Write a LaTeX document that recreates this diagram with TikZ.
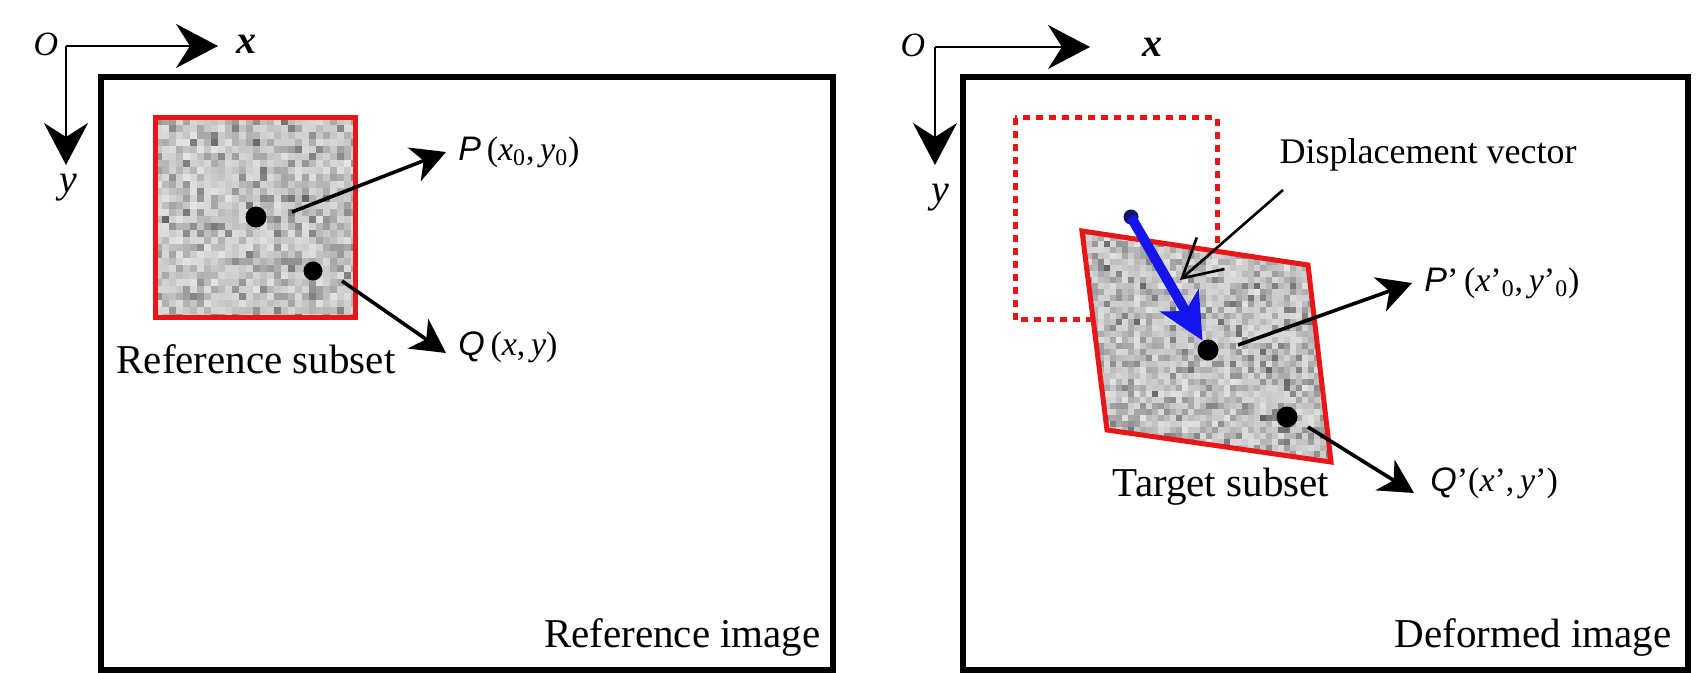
\documentclass[tikz,border=0pt]{standalone}
\usepackage{fontspec}
\setmainfont{Liberation Serif}
\setsansfont{Liberation Sans}
\usetikzlibrary{arrows.meta}
\definecolor{myred}{RGB}{232,22,22}
\definecolor{myblue}{RGB}{20,20,235}
\definecolor{navy}{RGB}{20,20,110}
\begin{document}
\begin{tikzpicture}[x=0.5pt,y=-0.5pt,
  frame/.style={line width=3pt},
  subsetbox/.style={draw=myred,line width=2.5pt},
  dashbox/.style={draw=myred,line width=2.5pt,dash pattern=on 3.5pt off 3pt},
  axisarrow/.style={line width=1pt,-{Stealth[length=21pt,width=22pt,inset=7pt]}},
  ptr/.style={line width=1.8pt,-{Stealth[length=17pt,width=18pt,inset=5pt]}},
  bluearrow/.style={draw=myblue,line width=5pt,-{Stealth[length=23pt,width=22pt,inset=6pt]}},
  openarrow/.style={line width=1.3pt,-{Straight Barb[length=19pt,width=21pt]}},
  dot/.style={circle,fill=black,minimum size=10.5pt,inner sep=0pt},
  biglbl/.style={font=\fontsize{20.5}{24}\selectfont,inner sep=0pt},
  midlbl/.style={font=\fontsize{18}{22}\selectfont,inner sep=0pt},
  mathlbl/.style={font=\fontsize{17}{20}\selectfont,inner sep=0pt,anchor=west},
  olbl/.style={font=\fontsize{17}{20}\selectfont,inner sep=0pt},
  axlbl/.style={font=\fontsize{20}{24}\selectfont,inner sep=0pt}
]
\useasboundingbox (0,0) rectangle (1702,673);
\fill[white] (0,0) rectangle (1702,673);

% ---------- left panel ----------
\draw[frame] (101,77) rectangle (833,670);
\node[olbl] (O1) at (46,44) {\textit{O}};
\coordinate (o1) at (66,46);
\coordinate (x1) at (218,46);
\coordinate (y1) at (66,165);
\draw[axisarrow] (o1) -- (x1);
\draw[axisarrow] (o1) -- (y1);
\node[axlbl] (xl1) at (246,44) {\textbf{\textit{x}}};
\node[axlbl] (yl1) at (68,188) {\textit{y}};

\pgfmathsetseed{11}
\begin{scope}
\clip (155,118) rectangle (355,318);
\foreach \i in {0,...,28}{\foreach \j in {0,...,28}{
  \pgfmathsetmacro{\g}{10+44*rnd*rnd+8*rnd}
  \fill[black!\g] (155+7*\i,118+7*\j) rectangle ++(7.4,7.4);
}}
\end{scope}
\draw[subsetbox] (155,118) rectangle (355,318);

\node[dot] (P) at (256,217) {};
\node[dot,minimum size=9.5pt] (Q) at (313,271) {};
\coordinate (Ps) at (292,212);
\coordinate (Qs) at (342,281);
\node[mathlbl] (Pl) at (458,152) {{\sffamily\itshape P}\,(\textit{x}\textsubscript{0},\,\textit{y}\textsubscript{0})};
\node[mathlbl] (Ql) at (458,347) {{\sffamily\itshape Q}\,(\textit{x},\,\textit{y})};
\draw[ptr] (Ps) -- ([xshift=-6]Pl.west);
\draw[ptr] (Qs) -- ([xshift=-6,yshift=-3]Ql.west);
\node[biglbl] (rs) at (256,359) {Reference subset};
\node[biglbl,anchor=east] (ri) at (821,637) {Reference image};

% ---------- right panel ----------
\draw[frame] (963,77) rectangle (1688,670);
\node[olbl] (O2) at (913,45) {\textit{O}};
\coordinate (o2) at (935,47);
\coordinate (x2) at (1090,47);
\coordinate (y2) at (935,165);
\draw[axisarrow] (o2) -- (x2);
\draw[axisarrow] (o2) -- (y2);
\node[axlbl] (xl2) at (1152,47) {\textbf{\textit{x}}};
\node[axlbl] (yl2) at (940,198) {\textit{y}};

\draw[dashbox] (1015,118) rectangle (1217,320);

\coordinate (TL) at (1082,231);
\coordinate (TR) at (1308,265);
\coordinate (BR) at (1331,462);
\coordinate (BL) at (1107,430);
\fill[white] (TL) -- (TR) -- (BR) -- (BL) -- cycle;
\begin{scope}
\clip (TL) -- (TR) -- (BR) -- (BL) -- cycle;
\foreach \i in {0,...,41}{\foreach \j in {0,...,39}{
  \pgfmathsetmacro{\g}{10+46*rnd*rnd+10*rnd}
  \fill[black!\g] (1080+6*\i,229+6*\j) rectangle ++(6.4,6.4);
}}
\end{scope}
\draw[subsetbox,line join=miter] (TL) -- (TR) -- (BR) -- (BL) -- cycle;

\node[circle,fill=navy,minimum size=7.5pt,inner sep=0pt] (B0) at (1131,217) {};
\node[dot] (P2) at (1208,350) {};
\node[dot] (Q2) at (1287,417) {};
\draw[bluearrow] (B0.center) -- (P2);

\coordinate (P2s) at (1238,345);
\coordinate (Q2s) at (1308,427);
\node[mathlbl] (P2l) at (1424,283) {{\sffamily\itshape P}’\,(\textit{x}’\textsubscript{0},\,\textit{y}’\textsubscript{0})};
\node[mathlbl] (Q2l) at (1430,483) {{\sffamily\itshape Q}’(\textit{x}’,\,\textit{y}’)};
\draw[ptr] (P2s) -- ([xshift=-6]P2l.west);
\draw[ptr] (Q2s) -- ([xshift=-8,yshift=-5]Q2l.west);

\node[midlbl] (dv) at (1428,155) {Displacement vector};
\coordinate (dvs) at (1283,190);
\coordinate (dve) at (1180,280);
\draw[openarrow] (dvs) -- (dve);

\node[biglbl] (ts) at (1221,487) {Target subset};
\node[biglbl,anchor=east] (di) at (1672,637) {Deformed image};
\end{tikzpicture}
\end{document}
